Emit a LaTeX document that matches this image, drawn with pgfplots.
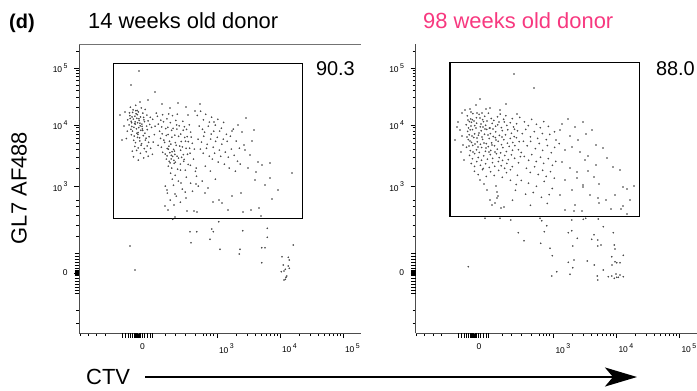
\documentclass[border=0pt]{standalone}
\usepackage{pgfplots}
\pgfplotsset{compat=1.18}
\usepackage{fontspec}
\setmainfont{Liberation Sans}
\usetikzlibrary{arrows.meta}
\definecolor{pinkt}{HTML}{F7387F}
\newcommand{\dec}[1]{10\,\raisebox{0.55em}{\fontsize{7}{7}\selectfont #1}}

\pgfplotsset{flowax/.style={
  scale only axis, width=282bp, height=289bp,
  ymin=-333, ymax=-44,
  axis x line*=bottom, axis y line*=left,
  axis line style={black!70,-},
  xtick pos=left, ytick pos=left,
  tick align=outside,
  major tick length=5bp, minor tick length=3bp,
  tick style={black, line width=0.7bp},
  ytick={-273,-186.5,-125,-68},
  yticklabels={0,{\dec{3}},{\dec{4}},{\dec{5}}},
  minor ytick={-51,-107.8,-97.8,-90.7,-85.2,-80.6,-76.8,-73.5,-70.6,-168,-157.2,-149.5,-143.5,-138.6,-134.5,-131,-127.8,-200,-206.7,-215,-225,-236.7,-310,-323},
  extra y ticks={-253,-256,-259,-262,-265,-268,-270,-271,-272,-273.5,-274.5,-275.5,-278,-281,-284,-287,-290,-293},
  extra y tick labels={},
  extra y tick style={major tick length=4.5bp, tick style={line width=1bp}},
  ticklabel style={font=\fontsize{8.5}{9}\selectfont},
  xticklabel style={anchor=north west, xshift=-1.5bp, yshift=-2bp},
  yticklabel style={anchor=east, xshift=-3bp},
}}
\pgfplotsset{dots/.style={only marks, mark=*, mark size=0.7bp, color=black!72, mark options={line width=0.2bp}}}

\begin{document}
\begin{tikzpicture}[x=1bp,y=1bp]
\useasboundingbox (0,0) rectangle (697,-390);

% ---------- left panel ----------
\begin{axis}[flowax, at={(79,-333)}, anchor=south west,
  xmin=79, xmax=361,
  xtick={138,217,280,343},
  xticklabels={0,{\dec{3}},{\dec{4}},{\dec{5}}},
  minor xtick={80,88.3,96.7,105,165.7,175,185,195,203.3,206.7,210,213.3,236,247,254.9,261,266,270.2,273.9,277.1,299,310,317.9,324,329,333.2,336.9,340.1},
  extra x ticks={122,125,128,130,132,134,135,136,137,139,140,142,144,147,150,152},
  extra x tick labels={},
  extra x tick style={major tick length=4.5bp, tick style={line width=1bp}},
]
\addplot[dots] coordinates {
(139,-71) (131,-85) (155,-92) (195,-111) (214,-122) (162,-104) (170,-108) (178,-103) (186,-107) (148,-100) (140,-102) (125,-112) (120,-115) (124,-126) (122,-140) (200,-104) (188,-115)
(130.4,-107.2) (133.1,-109.8) (135.7,-105.3) (137.2,-110.5) (141.3,-107.9) (132.6,-112.4) (136.1,-113.7) (138.4,-111.9) (142.8,-113.1) (145.2,-109.4) (129.8,-115.6) (134.9,-116.2) (136.8,-118.3) (140.5,-116.9) (143.6,-117.4) (146.9,-115.1) (127.7,-119.8) (131.2,-121.3) (133.4,-119.1) (137.6,-122.7) (139.2,-120.4) (141.9,-124.1) (144.5,-121.6) (148.1,-120.8) (150.3,-117.3) (129.1,-124.9) (131.8,-126.5) (135.3,-124.2) (138.7,-127.6) (140.2,-125.8) (142.4,-128.9) (146.6,-126.1) (149.7,-124.4) (130.9,-129.3) (132.5,-131.1) (136.4,-128.8) (138.1,-132.5) (142.7,-130.4) (144.9,-133.2) (147.3,-129.6) (151.5,-127.4) (131.4,-134.7) (134.2,-136.1) (137.9,-134.4) (139.6,-137.8) (143.3,-135.6) (146.1,-138.2) (149.1,-136.7) (133.7,-140.3) (135.5,-142.6) (139.8,-140.9) (141.6,-143.7) (145.4,-140.1) (148.6,-142.3) (134.8,-146.4) (138.2,-147.9) (141.1,-145.2) (144.3,-148.6) (147.2,-145.9) (132.3,-151.2) (136.6,-150.4) (140.4,-153.3) (146.2,-151.7) (150.6,-148.3) (153.2,-142.1) (154.4,-134.6) (155.1,-126.2) (152.7,-119.3) (156.3,-113.1) (130.2,-118.4) (127.3,-131.2) (126.4,-138.5) (133.5,-156.8) (138.3,-160.1) (143.7,-157.9) (148.2,-156.2) (152.4,-154.3)
(132,-116.9) (135.2,-121.8) (137.3,-114.6) (139.9,-123.2) (133.9,-127.3) (136.9,-133.2) (134.6,-123.5) (138.9,-118.7) (131.6,-122.7) (135.8,-110.6) (140.8,-130.3) (143.9,-119.8) (129.5,-112.8) (137.5,-137.4) (142.1,-126.4)
(157.4,-116.3) (160.8,-120.2) (162.6,-114.7) (166.9,-118.8) (168.7,-113.9) (172.5,-115.6) (175.8,-120.4) (177.3,-114.2) (158.3,-124.1) (161.7,-126.9) (163.5,-121.7) (167.8,-127.3) (170.4,-122.6) (173.1,-128.4) (176.6,-124.9) (179.2,-125.8) (182.8,-121.3) (184.4,-126.7) (159.6,-131.2) (162.2,-133.8) (165.7,-128.6) (168.1,-134.5) (171.6,-130.3) (174.8,-135.2) (176.9,-129.1) (180.7,-134.1) (183.2,-130.2) (186.5,-129.4) (189.3,-124.8) (160.5,-138.4) (163.8,-140.1) (166.3,-135.4) (169.5,-141.3) (171.9,-137.2) (175.4,-142.6) (178.6,-136.3) (181.3,-141.5) (184.7,-137.4) (187.2,-136.6) (190.6,-132.1) (158.1,-145.3) (161.4,-147.2) (164.6,-142.4) (167.3,-148.5) (170.8,-144.1) (173.6,-149.4) (176.2,-145.3) (179.7,-146.1) (182.4,-146.9) (185.5,-141.2) (188.3,-141.6) (191.2,-137.1) (162.7,-152.3) (165.2,-154.1) (168.4,-149.2) (171.3,-155.3) (174.5,-151.1) (177.1,-156.2) (180.6,-150.2) (183.4,-154.6) (186.1,-148.3) (189.6,-148.2) (192.3,-143.3) (166.4,-159.1) (169.2,-161.3) (172.6,-156.4) (175.3,-162.2) (178.5,-158.1) (181.6,-157.3) (184.2,-159.4) (187.5,-154.3) (190.1,-153.2) (194.4,-149.1) (168.3,-166.2) (171.7,-168.1) (174.2,-163.3) (177.6,-169.2) (180.4,-164.1) (183.7,-161.3) (188.2,-164.4) (193.5,-159.1) (170.6,-173.2) (175.2,-175.3) (180.5,-170.1) (185.3,-170.2) (190.4,-165.3) (196.2,-168.1) (172.3,-179.2) (178.4,-181.1) (186.3,-177.2) (195.4,-171.3) (165.3,-186.1) (173.5,-185.2) (182.3,-189.1) (190.6,-183.2) (167.4,-193.1) (176.3,-196.2) (185.2,-192.1) (192.5,-191.2) (198.3,-186.1) (170.2,-200.1) (180.4,-202.2)
(169.8,-152.6) (172.1,-151.7) (171.2,-158.9) (173.9,-160.3) (167.1,-155.8) (174.9,-154.4) (168.9,-146.2) (170.1,-162.8)
(197.3,-115.4) (200.6,-111.2) (203.4,-119.8) (205.7,-114.3) (209.4,-122.1) (211.6,-117.2) (215.3,-125.1) (217.8,-119.3) (221.4,-128.2) (223.6,-122.4) (199.2,-126.1) (202.5,-129.3) (204.6,-132.2) (208.3,-126.2) (211.2,-134.1) (213.7,-131.2) (217.3,-137.3) (219.6,-131.1) (223.3,-139.2) (226.4,-134.3) (198.1,-139.2) (201.5,-142.1) (203.7,-136.2) (207.2,-144.3) (210.6,-139.1) (213.2,-147.2) (215.6,-141.3) (219.4,-150.1) (221.8,-144.2) (225.3,-152.1) (200.4,-149.1) (203.2,-153.2) (206.5,-148.3) (209.3,-156.2) (212.4,-159.1) (214.6,-153.2) (218.2,-162.1) (220.7,-156.3) (224.4,-164.2) (228.3,-157.2) (231.4,-149.1) (234.2,-155.3) (237.5,-161.2) (227.2,-141.3) (230.4,-136.2) (233.3,-129.1) (236.2,-141.1) (239.4,-148.2) (229.2,-168.1) (235.4,-171.2) (240.2,-164.1) (205.3,-166.2) (210.4,-171.1) (196.5,-176.2) (202.2,-181.1) (215.4,-179.2)
(232,-131) (242,-132) (254,-130) (252,-141) (245,-150) (250,-155) (258,-162) (248,-168) (256,-172) (262,-165) (270,-163) (255,-180) (265,-185) (292,-173) (241,-193) (272,-199) (259,-208) (261,-216) (244,-145) (238,-125) (246,-118) (270,-178) (278,-190)
(165,-206) (168,-210) (174,-205) (187,-211) (194,-211) (197,-212) (175,-217) (219,-200) (222,-203) (228,-210) (243,-212) (251,-210) (167,-190) (175,-194) (186,-198) (205,-193) (213,-202) (232,-196) (196,-184) (208,-188) (181,-183)
(172.7,-219.3) (218.7,-221.7) (190,-231.7) (196.7,-231.7) (211.7,-229) (213.3,-231.7) (242.7,-230.7) (267.3,-228.3) (267.3,-237.3) (210,-239.3) (191,-242.7) (220,-249.3) (240,-249.3) (239.3,-254) (261.7,-247.7) (265,-247.7) (293.3,-245) (130,-246) (135,-270) (261.7,-262.7)
(282,-256.7) (288.3,-257.3) (289.3,-260) (283.3,-265) (288.3,-266) (289.3,-268.3) (285.3,-269.3) (281.3,-271.7) (284,-271) (286.7,-276) (285.3,-279.3) (284,-280) (286,-277.3)
};
\draw[black!55, line width=0.6bp] (axis cs:79,-44) -- (axis cs:361,-44);
\draw[black, line width=1.2bp] (axis cs:113.3,-63.3) rectangle (axis cs:302.7,-218.3);
\end{axis}

% ---------- right panel ----------
\begin{axis}[flowax, at={(415.5,-333)}, anchor=south west,
  xmin=415.5, xmax=697.5,
  xtick={474.5,553.5,616.5,679.5},
  xticklabels={0,{\dec{3}},{\dec{4}},{\dec{5}}},
  minor xtick={416.5,424.8,433.2,441.5,502.2,511.5,521.5,531.5,539.8,543.2,546.5,549.8,572.5,583.5,591.4,597.5,602.5,606.7,610.4,613.6,635.5,646.5,654.4,660.5,665.5,669.7,673.4,676.6},
  extra x ticks={458.5,461.5,464.5,466.5,468.5,470.5,471.5,472.5,473.5,475.5,476.5,478.5,480.5,483.5,486.5,488.5},
  extra x tick labels={},
  extra x tick style={major tick length=4.5bp, tick style={line width=1bp}},
]
\addplot[dots] coordinates {
(514,-74) (534,-88) (480,-99) (470,-109) (471,-112) (486,-109) (477,-113) (482,-113) (517,-114) (476,-105) (490,-108) (500,-110) (506,-104)
(467.3,-115.8) (470.6,-118.9) (472.8,-113.6) (476.4,-117.7) (479.1,-114.4) (482.6,-119.6) (484.7,-116.3) (488.4,-113.2) (491.3,-118.5) (493.8,-120.4) (497.5,-116.8) (500.2,-114.1) (503.6,-119.3) (505.8,-115.7) (469.4,-121.6) (472.3,-119.7)
(466.2,-124.7) (468.5,-127.9) (471.4,-122.3) (474.7,-125.6) (476.6,-123.2) (480.3,-126.8) (483.5,-121.6) (485.6,-125.3) (489.4,-128.1) (492.2,-123.4) (495.6,-126.2) (497.7,-124.8) (501.4,-127.6) (504.3,-121.9) (506.8,-125.4) (510.3,-122.7) (513.5,-126.9) (470.2,-129.8)
(467.6,-131.4) (469.2,-134.7) (472.5,-129.6) (474.6,-133.8) (478.4,-135.2) (481.2,-130.7) (484.5,-134.3) (486.7,-129.4) (490.4,-133.6) (493.3,-136.5) (495.7,-131.8) (499.4,-135.4) (502.3,-130.6) (505.5,-134.8) (507.7,-129.7) (511.4,-133.3) (514.2,-136.6) (517.5,-130.8)
(468.3,-139.6) (471.5,-142.4) (473.7,-137.5) (477.3,-141.8) (480.4,-144.3) (482.6,-139.4) (486.3,-143.6) (489.2,-138.5) (491.6,-142.8) (495.4,-137.6) (498.2,-141.3) (501.5,-144.6) (503.8,-139.7) (507.4,-143.2) (510.3,-138.4) (512.7,-142.5) (516.4,-137.7) (519.2,-141.6)
(466.5,-147.3) (470.3,-150.6) (472.7,-145.4) (476.5,-149.7) (479.3,-152.4) (481.6,-147.5) (485.4,-151.3) (488.3,-146.6) (490.7,-150.4) (494.5,-145.7) (497.3,-149.2) (500.6,-152.8) (502.8,-147.6) (506.4,-151.5) (509.2,-146.4) (512.5,-150.3) (514.8,-145.6) (518.4,-149.7) (521.3,-152.5)
(469.5,-155.4) (472.4,-158.7) (474.6,-153.6) (478.3,-157.5) (481.5,-160.3) (483.7,-155.8) (487.4,-159.2) (490.3,-154.6) (492.6,-158.4) (496.4,-153.7) (499.2,-157.6) (502.5,-160.4) (504.7,-155.5) (508.3,-159.6) (511.4,-154.8) (514.6,-158.3) (520.4,-156.6)
(471.3,-163.5) (474.5,-166.4) (476.7,-161.6) (480.4,-165.3) (483.2,-168.5) (485.6,-163.7) (489.3,-167.4) (492.5,-162.6) (494.7,-166.3) (498.4,-161.5) (501.2,-165.7) (504.6,-168.3) (506.8,-163.4) (512.3,-166.6) (518.5,-162.7)
(474.4,-171.3) (478.2,-174.6) (482.5,-169.6) (486.3,-176.4) (490.6,-171.7) (494.2,-175.5) (498.6,-170.4) (502.3,-177.3) (506.5,-172.6) (510.4,-169.7)
(468,-120) (471,-126) (474,-121) (476,-128) (479,-133) (482,-137) (485,-129) (487,-121) (472,-136) (475,-144) (470,-141) (478,-147) (481,-124) (484,-143) (488,-135) (490,-128) (493,-129) (496,-140) (499,-122) (502,-137) (467,-137) (469,-146) (473,-152) (477,-138) (480,-118) (483,-127) (486,-148) (489,-152) (492,-145) (495,-152)
(512.3,-118.6) (516.6,-123.7) (519.7,-117.4) (524.4,-121.8) (528.3,-125.6) (531.6,-119.4) (536.4,-124.3) (540.3,-127.7) (543.7,-121.6) (548.4,-126.4) (514.5,-129.3) (522.3,-133.6) (525.7,-129.4) (530.4,-136.8) (534.3,-131.6) (537.6,-138.4) (542.4,-133.5) (546.3,-139.6) (549.7,-134.4) (554.5,-131.7) (523.4,-141.3) (527.2,-145.7) (530.6,-141.4) (535.4,-148.6) (539.3,-143.5) (542.6,-150.4) (547.4,-145.5) (551.3,-152.7) (554.6,-147.4) (559.2,-143.6) (524.3,-156.4) (528.6,-160.3) (531.7,-154.6) (536.3,-161.5) (540.5,-157.3) (543.6,-163.4) (548.3,-158.6) (552.4,-165.3) (555.7,-161.4) (526.4,-168.3) (530.3,-172.4) (534.6,-166.7) (538.3,-174.5) (542.6,-170.3) (546.2,-176.4) (550.5,-171.6) (554.3,-178.2) (517.4,-175.3) (521.3,-180.4) (528.5,-183.2) (536.4,-186.3) (544.2,-181.4) (552.3,-188.5) (515.4,-190.3) (525.6,-194.2) (533.3,-192.5) (541.4,-197.3) (549.2,-194.6) (512.5,-200.2) (530.4,-205.3) (547.3,-203.4) (516.2,-184.5) (510.4,-180.3)
(562,-124) (568,-119) (575,-127) (583,-122) (570,-136) (578,-140) (586,-134) (592,-130) (565,-150) (572,-147) (580,-152) (588,-156) (596,-145) (603,-148) (607,-158) (613,-167) (562,-162) (570,-168) (577,-172) (577,-178) (583,-185) (583,-187) (588,-171) (594,-177) (599,-184) (634,-186) (623,-187) (627,-189) (565,-180) (572,-190) (590,-195) (598,-198) (599,-203) (575,-205) (574,-211) (582,-211) (611,-209) (621,-209) (623,-206) (627,-214) (560,-195) (565,-210) (606,-200) (615,-195) (630,-200) (585,-160) (596,-165) (620,-170) (560,-130) (556,-140)
(458,-122) (460,-130) (462,-136) (455,-140) (463,-145) (461,-152) (457,-127) (464,-160) (465,-110) (462,-113)
(496,-186) (497,-192) (498,-196) (497,-198) (495,-203) (501,-208) (504,-207) (487,-190) (490,-200) (484,-184) (480,-180) (492,-205)
(485,-218.3) (500,-218.3) (510.7,-220) (540,-218.3) (541.7,-220.7) (571.7,-220) (583.3,-219.3) (585.7,-218.3) (598.3,-219) (546.7,-225.7) (544.3,-231.7) (518.3,-232.7) (524,-240.7) (540.7,-243.3) (550,-248.3) (552.3,-255.7) (568.3,-232.7) (571.7,-230.7) (577.3,-238.3) (572.7,-246) (591.7,-239.3) (594,-234.7) (597.7,-240) (597.7,-246) (601,-245) (603.3,-226.7) (613.3,-232.7) (614.3,-245) (615,-249) (623.3,-255.3) (611.7,-256.7) (615,-261.7) (616.7,-262.7) (620,-262.7) (612,-265) (603.3,-270) (574,-260) (568.3,-262.3) (572.7,-267.7) (587.3,-261) (594.3,-265) (570,-274.3) (556.7,-271.7) (551.7,-276) (597.3,-276) (597.7,-280) (608.3,-276.7) (611.7,-276) (616,-274) (618.3,-277.3) (620,-275) (623.3,-276.7) (614.3,-278.3) (616.7,-277.3) (468.3,-266.7)
};
\draw[black!55, line width=0.6bp] (axis cs:415.5,-43) -- (axis cs:697.5,-43);
\draw[black, line width=1.2bp] (axis cs:450,-62.3) rectangle (axis cs:639.3,-216.7);
\end{axis}

% ---------- texts ----------
\node[anchor=base west, font=\bfseries\fontsize{20}{22}\selectfont, inner sep=0] at (9,-28) {(d)};
\node[anchor=base west, font=\fontsize{22}{24}\selectfont, inner sep=0] at (88,-28) {14 weeks old donor};
\node[anchor=base west, font=\fontsize{22}{24}\selectfont, inner sep=0, text=pinkt] at (423,-28) {98 weeks old donor};
\node[anchor=base east, font=\fontsize{20}{22}\selectfont, inner sep=0] at (355,-75) {90.3};
\node[anchor=base east, font=\fontsize{20}{22}\selectfont, inner sep=0] at (695,-75) {88.0};
\node[rotate=90, anchor=center, font=\fontsize{22}{24}\selectfont, inner sep=0] at (19,-188) {GL7 AF488};
\node[anchor=base west, font=\fontsize{22}{24}\selectfont, inner sep=0] at (86,-384) {CTV};
\draw[line width=2.2bp, -{Stealth[length=32bp, width=19bp, inset=8bp]}] (145,-377) -- (637,-377);
\end{tikzpicture}
\end{document}
